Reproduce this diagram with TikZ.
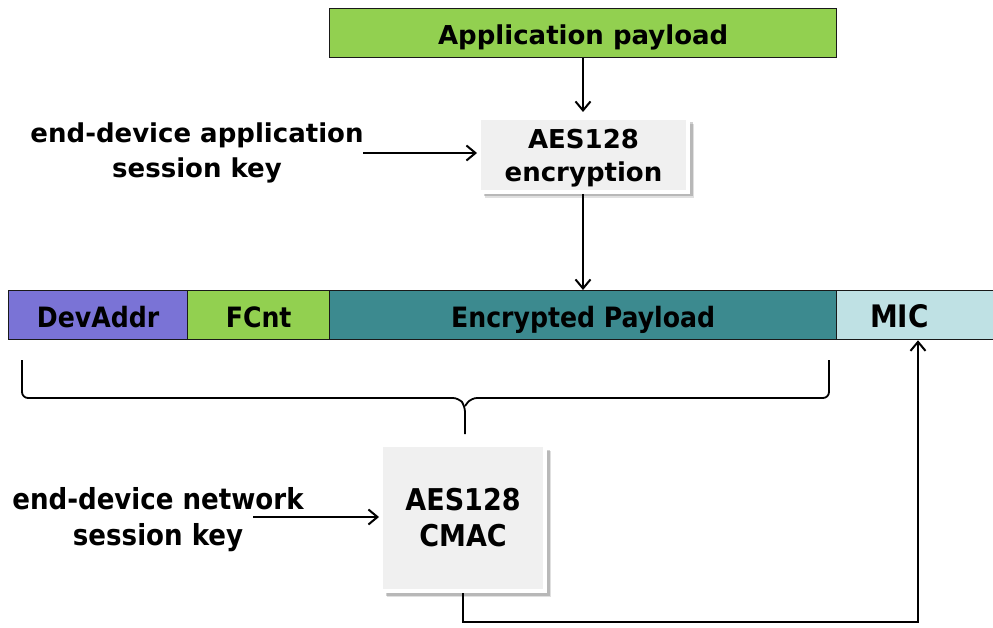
\documentclass[tikz,border=0pt]{standalone}
\usepackage{fontspec}
\setmainfont{DejaVu Sans}
\newfontfamily\condfont{DejaVu Sans Condensed}
\usetikzlibrary{arrows.meta,decorations.pathreplacing,shadows,calc}
\definecolor{gr}{HTML}{92D050}
\definecolor{pu}{HTML}{7A73D6}
\definecolor{te}{HTML}{3C8A8F}
\definecolor{lb}{HTML}{BFE1E4}
\definecolor{bx}{HTML}{F0F0F0}
\begin{document}
\begin{tikzpicture}[x=1pt,y=-1pt,
  lbl/.style={font=\bfseries\fontsize{26}{35}\selectfont,align=center,text=black},
  field/.style={draw=black!90,line width=1.3pt,minimum height=49pt,inner sep=0pt,text height=25pt,text depth=0pt,font=\condfont\bfseries\fontsize{28}{30}\selectfont},
  aesbox/.style={fill=bx,draw=white,line width=4pt,inner sep=0pt,
    general shadow={shadow xshift=6pt,shadow yshift=-6pt,opacity=0.12,fill=black},
    general shadow={shadow xshift=4.5pt,shadow yshift=-4.5pt,opacity=0.18,fill=black},
    align=center},
  arr/.style={-{Straight Barb[length=9pt,width=15pt,line width=2pt]},line width=2pt}]
\useasboundingbox (0,0) rectangle (993,628);
\node[field,fill=gr,minimum width=507pt,anchor=north west,text height=23pt,font=\bfseries\fontsize{26}{30}\selectfont] (app) at (329,8) {Application payload};
\node[aesbox,minimum width=209pt,minimum height=74pt,anchor=north west,text depth=-4pt,font=\bfseries\fontsize{26}{33}\selectfont] (enc) at (477,116) {AES128\\encryption};
\node[lbl] (askey) at (197,153) {end-device application\\session key};
\node[field,fill=pu,minimum width=179pt,anchor=north west] (dev) at (8,290) {DevAddr};
\node[field,fill=gr,minimum width=142pt,anchor=north west] (fcnt) at (187,290) {FCnt};
\node[field,fill=te,minimum width=507pt,anchor=north west] (encp) at (329,290) {Encrypted Payload};
\node[field,fill=lb,minimum width=157pt,anchor=north west,text width=150pt,align=left] (mic) at (836,290) {\hspace*{30pt}\fontsize{31}{32}\selectfont MIC};
\node[aesbox,minimum width=164pt,minimum height=146pt,anchor=north west,font=\condfont\bfseries\fontsize{30}{36}\selectfont] (cmac) at (379,443) {AES128\\CMAC};
\node[lbl,font=\condfont\bfseries\fontsize{29}{36}\selectfont] (nskey) at (158,520) {end-device network\\session key};
\coordinate (askstart) at (363,153);
\coordinate (nsstart) at (253,517);
\coordinate (brl) at (22,360);
\coordinate (brr) at (829,360);
\coordinate (turn1) at (463,622);
\coordinate (turn2) at (918,622);
\draw[arr] (app.south -| 583,0) -- (583,112);
\draw[arr] (askstart) -- (askstart -| enc.west);
\draw[arr] (enc.south -| 583,0) -- (encp.north -| 583,0);
\draw[line width=1.8pt,rounded corners=6pt] (brl) -- (22,398) -- (459,398) -- (465,406) -- (465,434);
\draw[line width=1.8pt,rounded corners=6pt] (brr) -- (829,398) -- (471,398) -- (465,406);
\draw[arr] (nsstart) -- (nsstart -| cmac.west);
\draw[arr] (cmac.south -| 463,0) -- (turn1) -- (turn2) -- (mic.south -| 918,0);
\end{tikzpicture}
\end{document}
